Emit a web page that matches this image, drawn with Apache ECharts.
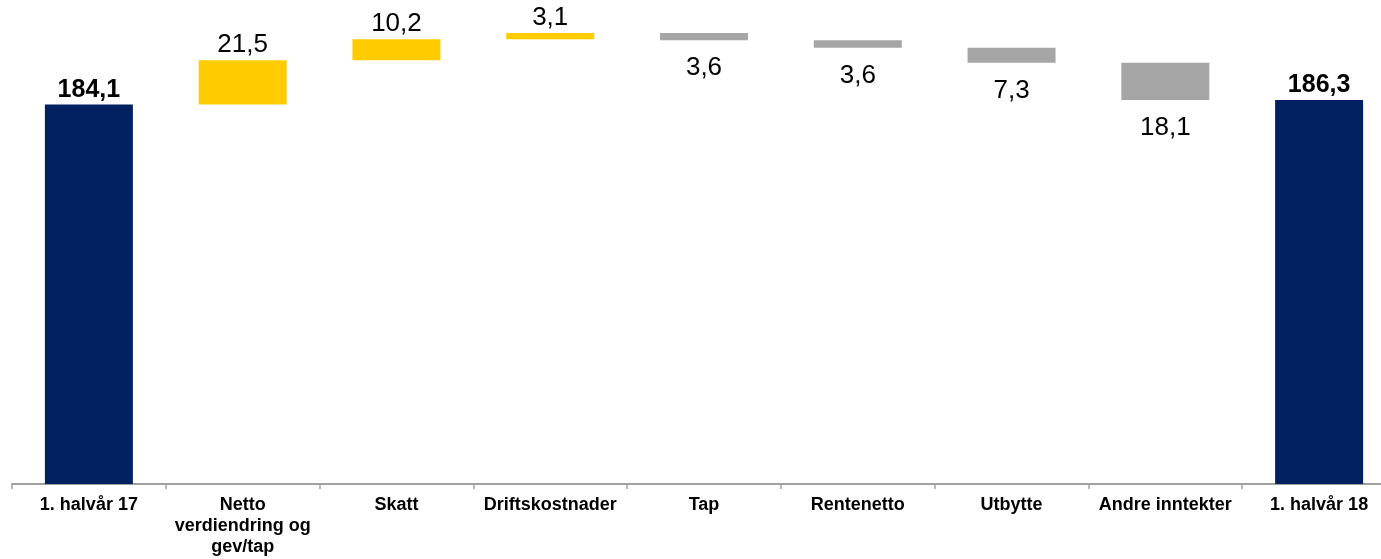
<!DOCTYPE html>
<html>
<head>
<meta charset="utf-8">
<script src="https://cdn.jsdelivr.net/npm/echarts@6/dist/echarts.min.js"></script>
<style>
  html, body { margin: 0; padding: 0; background: #fff; }
  #chart { width: 1381px; height: 559px; }
</style>
</head>
<body>
<div id="chart"></div>
<script>
// waterfall data
var categories = ['1. halvår 17', 'Netto\nverdiendring og\ngev/tap', 'Skatt', 'Driftskostnader',
  'Tap', 'Rentenetto', 'Utbytte', 'Andre inntekter', '1. halvår 18'];
var changes = [184.1, 21.5, 10.2, 3.1, -3.6, -3.6, -7.3, -18.1, 186.3];
var isTotal = [true, false, false, false, false, false, false, false, true];

var colors = { total: '#002060', up: '#FFCC00', down: '#A6A6A6' };
var font = '"Liberation Sans", Arial, sans-serif';

// build invisible base + visible step from the changes
var baseData = [];
var stepData = [];
var running = 0;
changes.forEach(function (v, i) {
  if (isTotal[i]) {
    baseData.push(0);
    running = v;
    stepData.push({
      value: v,
      itemStyle: { color: colors.total },
      label: { position: 'top', fontWeight: 'bold', fontSize: 25 }
    });
  } else if (v >= 0) {
    baseData.push(running);
    running += v;
    stepData.push({
      value: v,
      itemStyle: { color: colors.up },
      label: { position: 'top' }
    });
  } else {
    running += v;
    baseData.push(running);
    stepData.push({
      value: -v,
      itemStyle: { color: colors.down },
      label: { position: 'bottom', distance: 15 }
    });
  }
});

var chart = echarts.init(document.getElementById('chart'), null, { renderer: 'canvas' });
chart.setOption({
  animation: false,
  textStyle: { fontFamily: font },
  grid: { left: 12, right: -15, top: 10, bottom: 75, outerBoundsMode: 'none', containLabel: false },
  xAxis: {
    type: 'category',
    data: categories,
    axisLine: { lineStyle: { color: '#A0A0A0', width: 2 } },
    axisTick: { show: true, length: 5, lineStyle: { color: '#A0A0A0', width: 1.5 } },
    axisLabel: {
      interval: 0,
      margin: 11,
      color: '#000',
      fontFamily: font,
      fontSize: 18,
      fontWeight: 'bold',
      lineHeight: 21
    }
  },
  yAxis: {
    type: 'value',
    show: false,
    min: 0,
    max: 230,
    splitLine: { show: false }
  },
  series: [
    {
      type: 'bar',
      stack: 'wf',
      data: baseData,
      barWidth: 88,
      itemStyle: { color: 'transparent' },
      emphasis: { disabled: true },
      silent: true
    },
    {
      type: 'bar',
      stack: 'wf',
      data: stepData,
      barWidth: 88,
      label: {
        show: true,
        color: '#000',
        fontFamily: font,
        fontSize: 26,
        distance: 2,
        formatter: function (p) {
          return p.value.toFixed(1).replace('.', ',');
        }
      }
    }
  ]
});
</script>
</body>
</html>
